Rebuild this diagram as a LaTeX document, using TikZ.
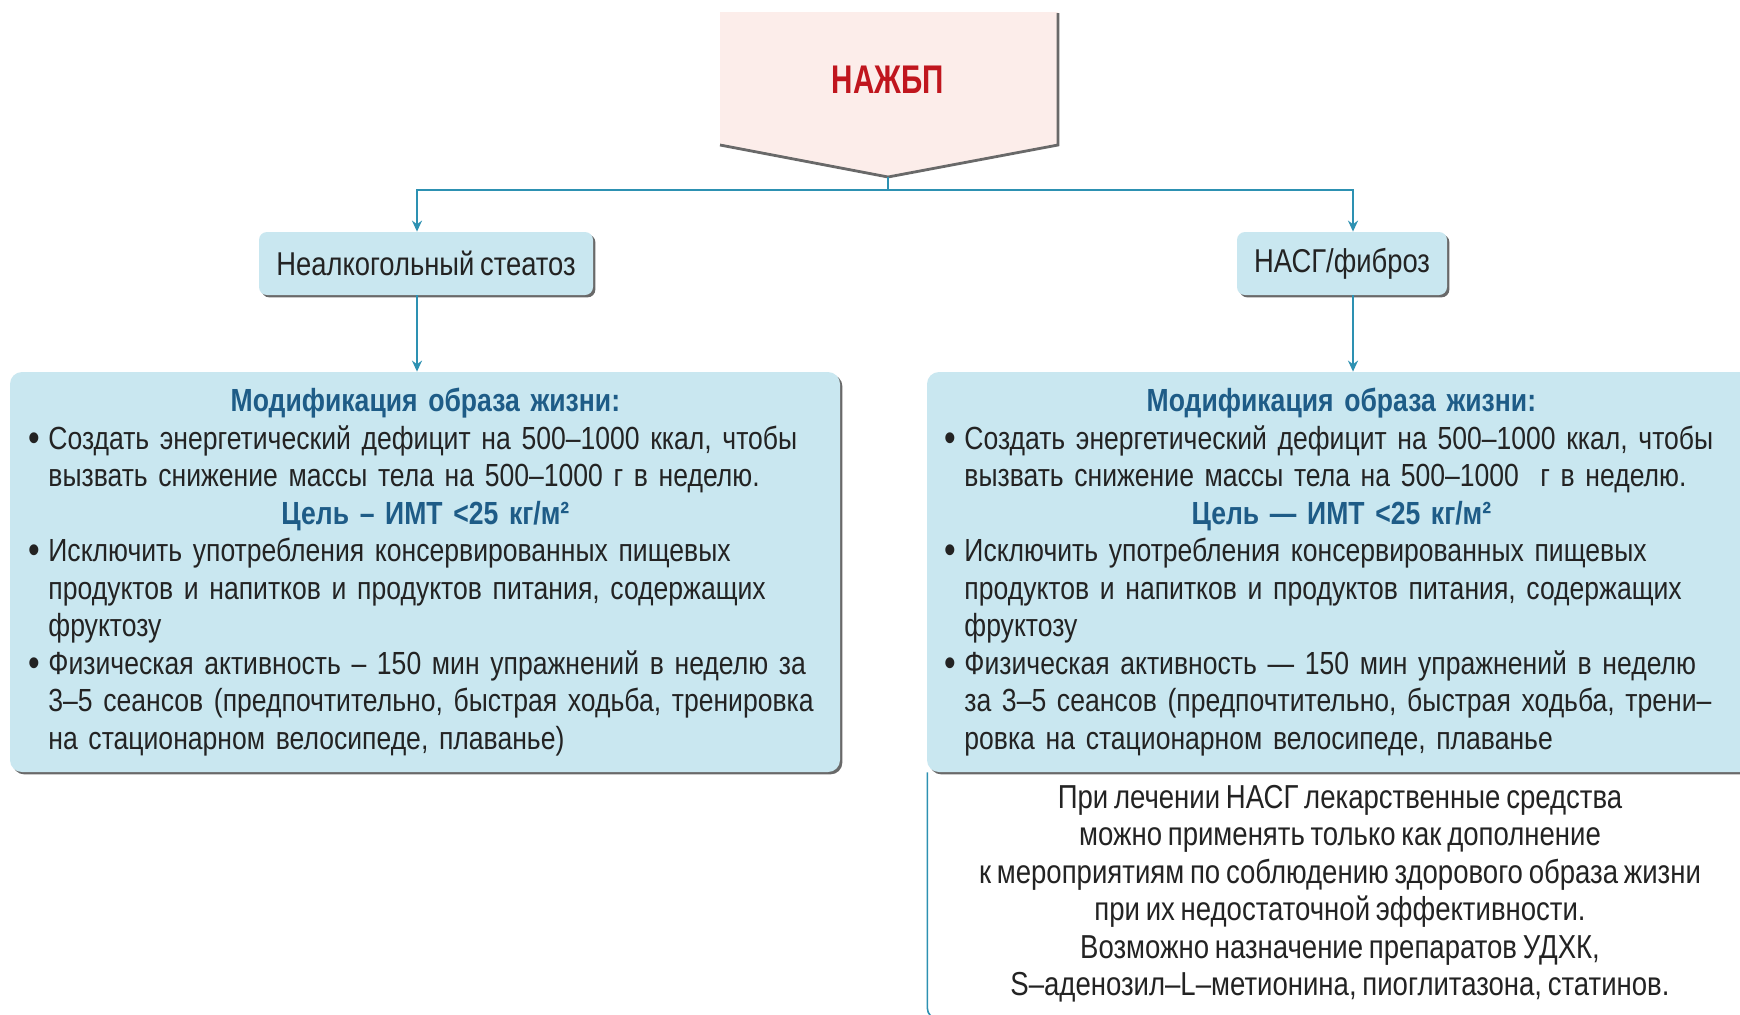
\documentclass[tikz,border=0pt]{standalone}
\usepackage{fontspec}
\setmainfont{Liberation Sans}[FakeStretch=0.83,WordSpace=0.75]
\newfontfamily\titlefont{Liberation Sans}[FakeStretch=0.74]
\usetikzlibrary{arrows.meta,positioning,shadows}
\definecolor{BoxBlue}{RGB}{201,231,240}
\definecolor{LineTeal}{RGB}{45,145,178}
\definecolor{HeadBlue}{RGB}{30,92,135}
\definecolor{TitleRed}{RGB}{192,22,30}
\definecolor{TitlePink}{RGB}{252,237,234}
\definecolor{ShadowGray}{RGB}{105,105,105}
\definecolor{TextDark}{RGB}{35,35,35}
\tikzset{
  formbox/.style={fill=BoxBlue,rounded corners=4pt,minimum height=31.5pt,font=\fontsize{16.5}{20}\selectfont,text=TextDark,drop shadow={shadow xshift=1.2pt,shadow yshift=-1.2pt,fill=ShadowGray,opacity=1}},
  bigbox/.style={fill=BoxBlue,rounded corners=6pt,minimum width=415pt,minimum height=200pt,drop shadow={shadow xshift=1.2pt,shadow yshift=-1.2pt,fill=ShadowGray,opacity=1}},
  bodytxt/.style={inner sep=0pt,anchor=north west,text width=394pt,align=left,font=\fontsize{16}{18.75}\selectfont,text=TextDark},
  notetxt/.style={inner sep=0pt,anchor=north,align=center,font=\fontsize{16.6}{18.75}\selectfont,text=TextDark},
  arr/.style={-{Stealth[length=5.5pt,width=5pt]},LineTeal,line width=0.8pt},
  frameline/.style={LineTeal,line width=0.8pt,rounded corners=5pt},
}
\newcommand\hd[1]{{\centering\leavevmode\bfseries\color{HeadBlue}#1\par}}
\newcommand\bl{\par\hangindent=8.5pt\hangafter=1\noindent\makebox[8.5pt][l]{\hspace{-1.5pt}\raisebox{-0.9pt}{\scalebox{1.25}{•}}}}
\newcommand\lnbr{\hfil\break}

\begin{document}
\begin{tikzpicture}[x=0.5pt,y=-0.5pt]
  \useasboundingbox (0,0) rectangle (1740,1014);
  \clip (0,0) rectangle (1740,1014);
  \fill[white] (0,0) rectangle (1740,1014);

  % title
  \fill[TitlePink] (720,12) -- (1058,12) -- (1058,145) -- (888,177) -- (720,145) -- cycle;
  \draw[ShadowGray,line width=1.4pt] (1058,13) -- (1058,145) -- (888,177) -- (720,145);
  \node[font=\titlefont\bfseries\fontsize{20}{22}\selectfont,text=TitleRed] (nafld) at (888,80) {НАЖБП};
  \coordinate (apex) at (888,177);
  \coordinate (fork) at (888,190);

  % forms
  \node[formbox,minimum width=167pt] (steat) at (426,263.5) {Неалкогольный стеатоз};
  \node[formbox,minimum width=105pt] (nash) at (1342,263.5) {НАСГ/фиброз};

  % lifestyle boxes
  \node[bigbox] (lbox) at (425,572) {};
  \node[bigbox,minimum width=414pt] (rbox) at (1341,572) {};

  % note frame
  \draw[frameline] ([xshift=0.4pt]rbox.south west) -- ++(0,246) -- ++(60,0);

  \node[bodytxt] (ltext) at (31,388) {%
    \hd{Модификация образа жизни:}
    \bl Создать энергетический дефицит на 500–1000 ккал, чтобы\lnbr вызвать снижение массы тела на 500–1000 г в неделю.\par
    \hd{Цель – ИМТ <25 кг/м²}
    \bl Исключить употребления консервированных пищевых\lnbr продуктов и напитков и продуктов питания, содержащих\lnbr фруктозу\par
    \bl Физическая активность – 150 мин упражнений в неделю за\lnbr 3–5 сеансов (предпочтительно, быстрая ходьба, тренировка\lnbr на стационарном велосипеде, плаванье)\par};

  \node[bodytxt] (rtext) at (947,388) {%
    \hd{Модификация образа жизни:}
    \bl Создать энергетический дефицит на 500–1000 ккал, чтобы\lnbr вызвать снижение массы тела на 500–1000 \ г в неделю.\par
    \hd{Цель — ИМТ <25 кг/м²}
    \bl Исключить употребления консервированных пищевых\lnbr продуктов и напитков и продуктов питания, содержащих\lnbr фруктозу\par
    \bl Физическая активность — 150 мин упражнений в неделю\lnbr за 3–5 сеансов (предпочтительно, быстрая ходьба, трени–\lnbr ровка на стационарном велосипеде, плаванье\par};

  \node[notetxt] (note) at (1340,784.5) {При лечении НАСГ лекарственные средства\\можно применять только как дополнение\\к мероприятиям по соблюдению здорового образа жизни\\при их недостаточной эффективности.\\Возможно назначение препаратов УДХК,\\S–аденозил–L–метионина, пиоглитазона, статинов.};

  % connectors
  \draw[arr] (apex) -- (fork) -| ([xshift=-4.5pt]steat.north);
  \draw[arr] (fork) -| ([xshift=5.5pt]nash.north);
  \draw[arr] ([xshift=-4.5pt]steat.south) -- ([xshift=-4.5pt]steat.south |- lbox.north);
  \draw[arr] ([xshift=5.5pt]nash.south) -- ([xshift=5.5pt]nash.south |- rbox.north);
\end{tikzpicture}
\end{document}
